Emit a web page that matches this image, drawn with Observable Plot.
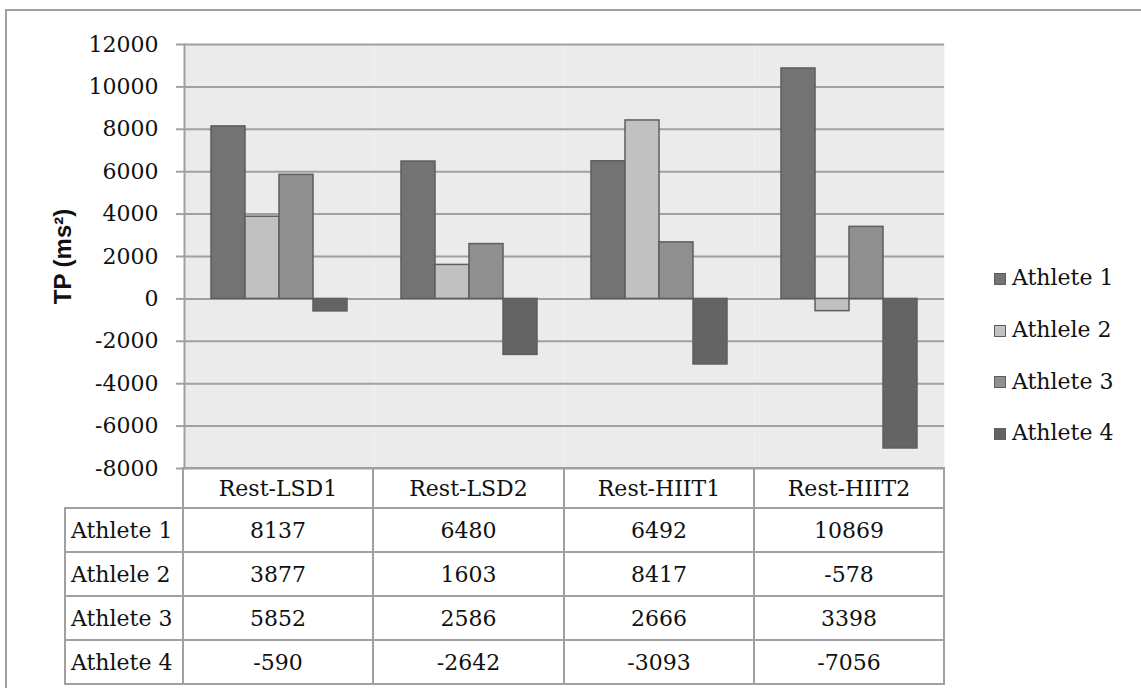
<!DOCTYPE html>
<html>
<head>
<meta charset="utf-8">
<script src="https://cdn.jsdelivr.net/npm/d3@7"></script>
<script src="https://cdn.jsdelivr.net/npm/@observablehq/plot@0.6"></script>
<style>
  html, body { margin: 0; padding: 0; background: #fff; }
  #wrap { position: relative; width: 1141px; height: 688px; overflow: hidden; background: #fff; font-family: "DejaVu Serif", serif; color: #111; }
  #outer { position: absolute; left: 5px; top: 9px; width: 1140px; height: 690px; border-left: 2px solid #a0a0a0; border-top: 2px solid #a0a0a0; }
  #chart { position: absolute; left: 0; top: 0; }
  #chart g[aria-label="y-axis label"] text { font-family: "Liberation Sans", Arial, sans-serif; font-weight: bold; font-size: 24px; }
  #tbl { position: absolute; left: 64px; top: 467px; border-collapse: collapse; table-layout: fixed; font-size: 22px; }
  #tbl td { border: 2px solid #a0a0a0; padding: 0; text-align: center; height: 42px; white-space: nowrap; }
  #tbl tr.hdr td { height: 38px; }
  #tbl td.corner { border-top: none; border-left: none; }
  #tbl td.lbl { text-align: left; padding-left: 5px; }
  #legend { position: absolute; left: 994px; top: 252px; font-size: 22px; }
  .item { display: flex; align-items: center; height: 51.7px; }
  .sw { width: 10px; height: 10px; border: 1.5px solid #5e5e5e; margin-right: 6px; margin-top: 2px; }
</style>
</head>
<body>
<div id="wrap">
  <div id="outer"></div>
  <div id="chart"></div>
  <table id="tbl"></table>
  <div id="legend"></div>
</div>
<script>
const categories = ["Rest-LSD1", "Rest-LSD2", "Rest-HIIT1", "Rest-HIIT2"];
const athletes = ["Athlete 1", "Athlele 2", "Athlete 3", "Athlete 4"];
const athlete1 = [8137, 6480, 6492, 10869];
const athlete2 = [3877, 1603, 8417, -578];
const athlete3 = [5852, 2586, 2666, 3398];
const athlete4 = [-590, -2642, -3093, -7056];
const yTicks = [-8000, -6000, -4000, -2000, 0, 2000, 4000, 6000, 8000, 10000, 12000];
const fills = ["#737373", "#c1c1c1", "#8f8f8f", "#646464"];

const series = [athlete1, athlete2, athlete3, athlete4];
const data = [];
series.forEach((vals, i) => vals.forEach((v, j) => data.push({athlete: athletes[i], cat: categories[j], value: v})));

const chart = Plot.plot({
  width: 1141,
  height: 480,
  marginLeft: 183,
  marginRight: 197,
  marginTop: 44,
  marginBottom: 12,
  style: {fontFamily: "DejaVu Serif, serif", fontSize: "22px", color: "#111", background: "transparent"},
  fx: {domain: categories, padding: 0, axis: null},
  x: {domain: athletes, paddingInner: 0, paddingOuter: 0.75, axis: null},
  y: {domain: [-8000, 12000], axis: null},
  color: {domain: athletes, range: fills},
  marks: [
    Plot.frame({fill: "#ebebeb"}),
    Plot.ruleY(yTicks, {stroke: "#a0a0a0", strokeWidth: 2}),
    Plot.frame({anchor: "left", stroke: "#a0a0a0", strokeWidth: 2, fx: () => categories[0]}),
    Plot.axisY(yTicks, {tickSize: 8, tickPadding: 18, stroke: "#a0a0a0", strokeWidth: 2, fill: "#111",
      tickFormat: d => String(d),
      label: "TP (ms²)", labelAnchor: "center", labelOffset: 131, labelArrow: false}),
    Plot.barY(data, {fx: "cat", x: "athlete", y: "value", fill: "athlete", stroke: "#5e5e5e", strokeWidth: 1.5})
  ]
});
document.getElementById("chart").appendChild(chart);

// data table
const tbl = document.getElementById("tbl");
const colg = document.createElement("colgroup");
[118, 190, 191, 190, 190].forEach(w => { const c = document.createElement("col"); c.style.width = w + "px"; colg.appendChild(c); });
tbl.appendChild(colg);
const hdr = document.createElement("tr"); hdr.className = "hdr";
const corner = document.createElement("td"); corner.className = "corner"; hdr.appendChild(corner);
categories.forEach(c => { const td = document.createElement("td"); td.textContent = c; hdr.appendChild(td); });
tbl.appendChild(hdr);
series.forEach((vals, i) => {
  const tr = document.createElement("tr");
  const lb = document.createElement("td"); lb.className = "lbl"; lb.textContent = athletes[i]; tr.appendChild(lb);
  vals.forEach(v => { const td = document.createElement("td"); td.textContent = String(v); tr.appendChild(td); });
  tbl.appendChild(tr);
});

// legend
const lg = document.getElementById("legend");
athletes.forEach((a, i) => {
  const it = document.createElement("div"); it.className = "item";
  const sw = document.createElement("div"); sw.className = "sw"; sw.style.background = fills[i];
  const tx = document.createElement("span"); tx.textContent = a;
  it.appendChild(sw); it.appendChild(tx); lg.appendChild(it);
});
</script>
</body>
</html>
